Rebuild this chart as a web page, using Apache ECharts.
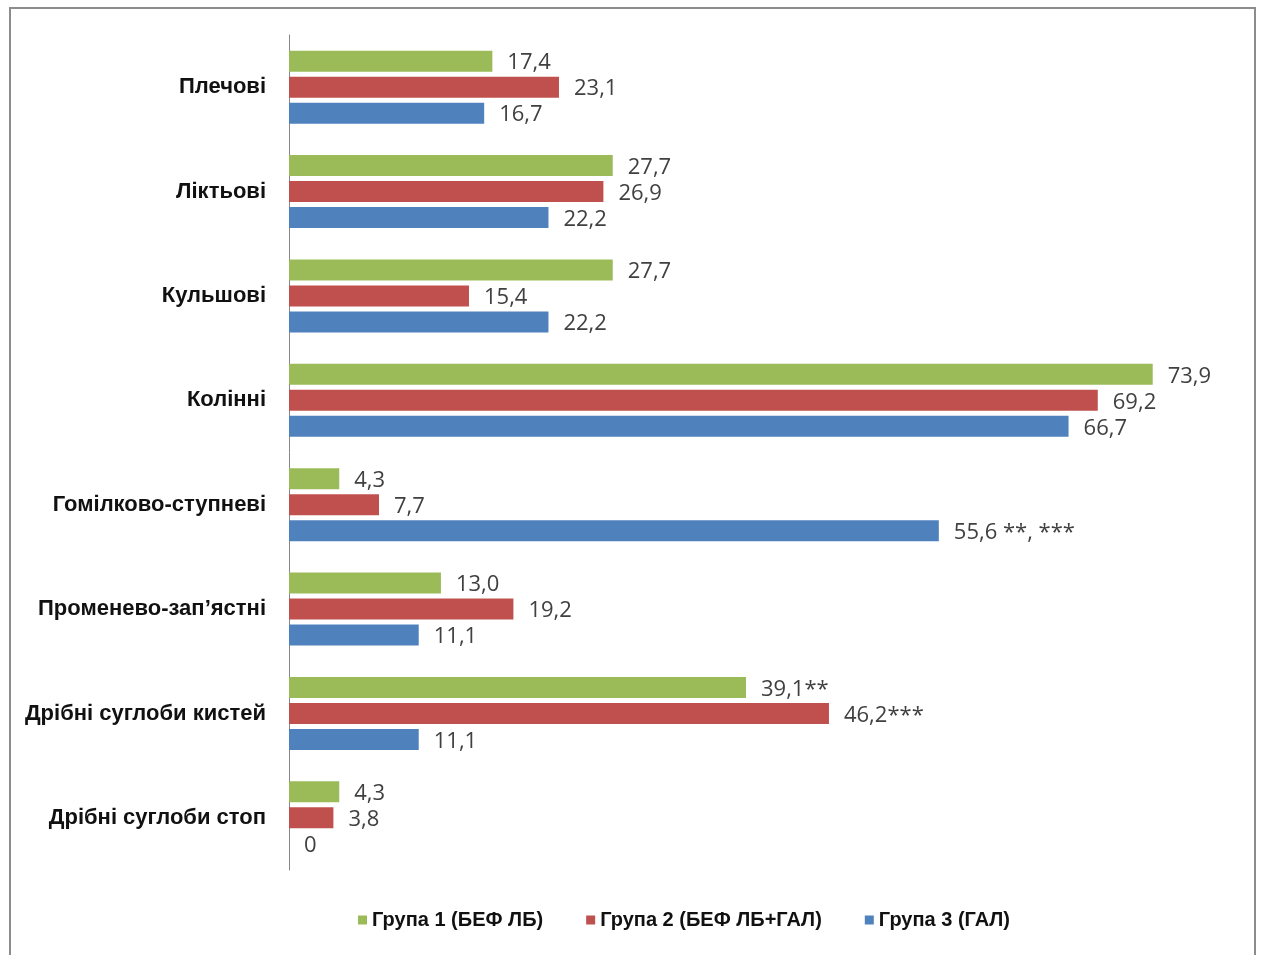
<!DOCTYPE html>
<html>
<head>
<meta charset="utf-8">
<script src="https://cdn.jsdelivr.net/npm/echarts@6/dist/echarts.min.js"></script>
<style>
  html, body { margin: 0; padding: 0; background: #ffffff; }
  #chart { width: 1261px; height: 955px; }
</style>
</head>
<body>
<div id="chart"></div>
<script>
// Joint groups, top to bottom
const categories = [
  'Плечові',
  'Ліктьові',
  'Кульшові',
  'Колінні',
  'Гомілково-ступневі',
  'Променево-зап’ястні',
  'Дрібні суглоби кистей',
  'Дрібні суглоби стоп'
];

const seriesNames = ['Група 1 (БЕФ ЛБ)', 'Група 2 (БЕФ ЛБ+ГАЛ)', 'Група 3 (ГАЛ)'];

// Percentages per group
const group1 = [17.4, 27.7, 27.7, 73.9, 4.3, 13.0, 39.1, 4.3];
const group2 = [23.1, 26.9, 15.4, 69.2, 7.7, 19.2, 46.2, 3.8];
const group3 = [16.7, 22.2, 22.2, 66.7, 55.6, 11.1, 11.1, 0];

// Significance marks appended to value labels
const marks1 = ['', '', '', '', '', '', '**', ''];
const marks2 = ['', '', '', '', '', '', '***', ''];
const marks3 = ['', '', '', '', ' **, ***', '', '', ''];

const colors = ['#9BBB59', '#C0504D', '#4F81BD'];

function fmt(v) {
  return v === 0 ? '0' : v.toFixed(1).replace('.', ',');
}

function makeSeries(name, values, marks, color) {
  return {
    name: name,
    type: 'bar',
    data: values,
    barGap: '24%',
    barCategoryGap: '30%',
    itemStyle: { color: color },
    label: {
      show: true,
      position: 'right',
      distance: 15,
      offset: [0, 2],
      color: '#404040',
      fontFamily: 'Open Sans',
      fontSize: 22,
      formatter: p => fmt(p.value) + marks[p.dataIndex]
    }
  };
}

const chart = echarts.init(document.getElementById('chart'), null, { renderer: 'canvas' });
chart.setOption({
  animation: false,
  backgroundColor: '#ffffff',
  graphic: [{
    type: 'rect',
    shape: { x: 10, y: 8, width: 1245, height: 960 },
    style: { fill: 'none', stroke: '#8c8c8c', lineWidth: 2 },
    silent: true
  }],
  grid: { left: 289, right: 37, top: 35, bottom: 85 },
  xAxis: {
    type: 'value',
    min: 0,
    max: 80,
    show: false
  },
  yAxis: {
    type: 'category',
    data: categories,
    inverse: true,
    axisLine: { show: true, lineStyle: { color: '#868686', width: 1 } },
    axisTick: { show: false },
    axisLabel: {
      margin: 23,
      color: '#111111',
      fontFamily: 'Liberation Sans',
      fontWeight: 'bold',
      fontSize: 22,
      padding: [4, 0, 0, 0]
    }
  },
  legend: {
    top: 905,
    left: 353,
    itemWidth: 9,
    itemHeight: 9,
    itemGap: 43,
    icon: 'rect',
    textStyle: {
      color: '#111111',
      fontFamily: 'Liberation Sans',
      fontWeight: 'bold',
      fontSize: 20
    },
    data: seriesNames
  },
  series: [
    makeSeries(seriesNames[0], group1, marks1, colors[0]),
    makeSeries(seriesNames[1], group2, marks2, colors[1]),
    makeSeries(seriesNames[2], group3, marks3, colors[2])
  ]
});
</script>
</body>
</html>
